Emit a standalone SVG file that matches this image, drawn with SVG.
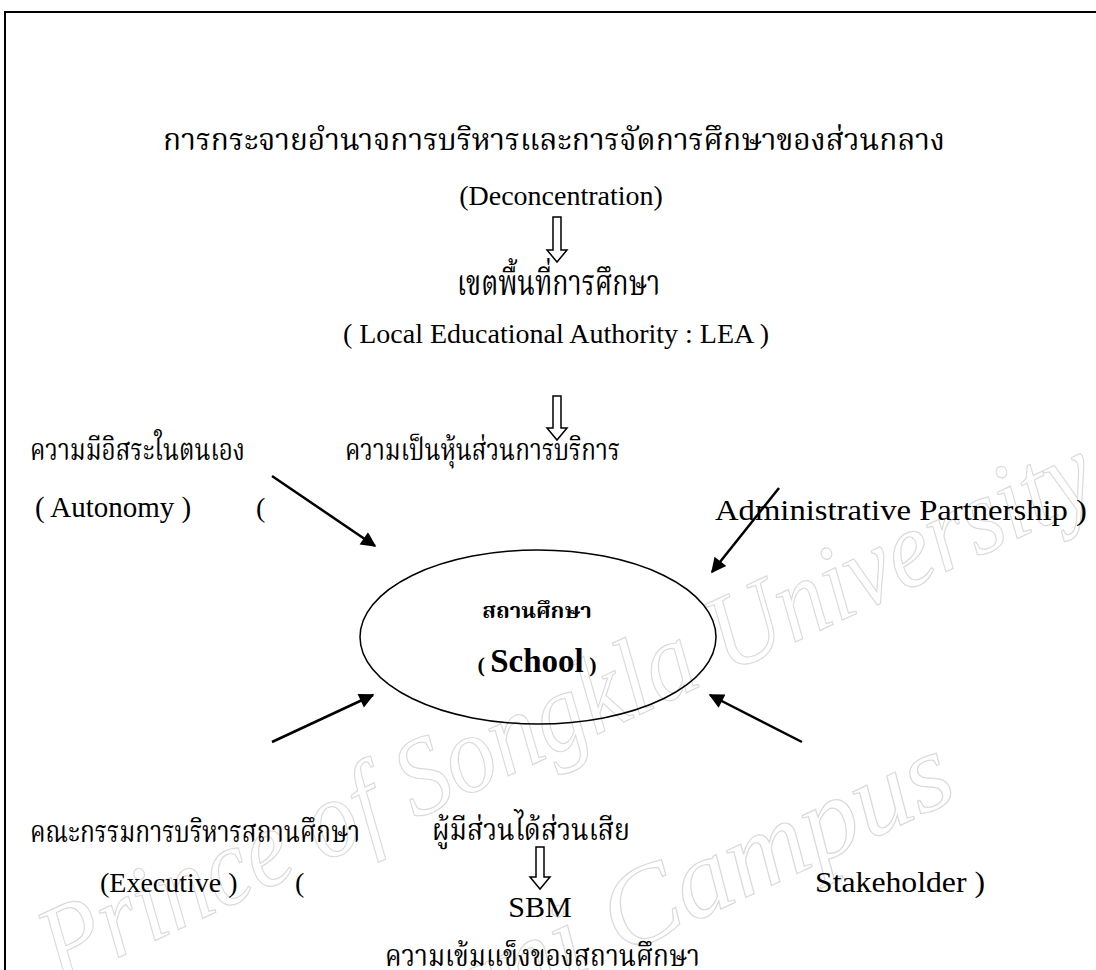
<svg xmlns="http://www.w3.org/2000/svg" width="1096" height="970" viewBox="0 0 1096 970">
<style>
.th{font-family:"Liberation Serif","Noto Serif Thai","Noto Sans Thai",serif;font-size:30px;fill:#000}
.en{font-family:"Liberation Serif",serif;font-size:28px;fill:#000}
.wm{font-family:"Liberation Serif",serif;font-style:italic;font-size:110px;fill:none;stroke:#dadada;stroke-width:1.2}
.ln{stroke:#000;stroke-width:2.5;fill:none}
.hol{fill:#fff;stroke:#000;stroke-width:1.5}
</style>
<defs>
<marker id="ah" viewBox="0 0 10 10" refX="9" refY="5" markerWidth="7" markerHeight="6" markerUnits="strokeWidth" orient="auto">
<path d="M0,0 L10,5 L0,10 z" fill="#000"/>
</marker>
</defs>
<rect x="0" y="0" width="1096" height="970" fill="#fff"/>
<g id="watermark">
<text class="wm" transform="translate(60,985) rotate(-25)" textLength="1150" lengthAdjust="spacingAndGlyphs">Prince of Songkla University</text>
<text class="wm" transform="translate(290,1110) rotate(-25)" textLength="740" lengthAdjust="spacingAndGlyphs">Pattani Campus</text>
</g>
<path d="M5,975 L5,12 L1100,12" stroke="#000" stroke-width="2" fill="none"/>
<g id="central">
<text class="th" x="163" y="150" textLength="782" lengthAdjust="spacingAndGlyphs">การกระจายอำนาจการบริหารและการจัดการศึกษาของส่วนกลาง</text>
<text class="en" x="561" y="205" text-anchor="middle">(Deconcentration)</text>
</g>
<g id="lea">
<text class="th" x="457" y="295" style="font-size:35px" textLength="203" lengthAdjust="spacingAndGlyphs">เขตพื้นที่การศึกษา</text>
<text class="en" x="556" y="343" text-anchor="middle">( Local Educational Authority : LEA )</text>
</g>
<g id="autonomy">
<text class="th" x="30" y="460" textLength="215" lengthAdjust="spacingAndGlyphs">ความมีอิสระในตนเอง</text>
<text class="en" x="35" y="517" style="font-size:29px">( Autonomy )</text>
<text class="en" x="256" y="517">(</text>
</g>
<g id="partnership">
<text class="th" x="345" y="460" textLength="275" lengthAdjust="spacingAndGlyphs">ความเป็นหุ้นส่วนการบริการ</text>
<text class="en" x="715" y="520" style="font-size:30px" textLength="372" lengthAdjust="spacingAndGlyphs">Administrative Partnership )</text>
</g>
<g id="school">
<ellipse cx="538" cy="637" rx="178" ry="87" fill="none" stroke="#000" stroke-width="1.5"/>
<text class="th" x="537" y="618" text-anchor="middle" style="font-size:22px;font-weight:bold">สถานศึกษา</text>
<text class="en" x="537" y="672" text-anchor="middle"><tspan style="font-size:22px;font-weight:bold">( </tspan><tspan style="font-size:33px;font-weight:bold">School</tspan><tspan style="font-size:22px;font-weight:bold"> )</tspan></text>
</g>
<g id="executive">
<text class="th" x="30" y="842" textLength="330" lengthAdjust="spacingAndGlyphs">คณะกรรมการบริหารสถานศึกษา</text>
<text class="en" x="100" y="892">(Executive )</text>
<text class="en" x="295" y="892">(</text>
</g>
<g id="stakeholder">
<text class="th" x="432" y="840" textLength="198" lengthAdjust="spacingAndGlyphs">ผู้มีส่วนได้ส่วนเสีย</text>
<text class="en" x="815" y="892" style="font-size:30px" textLength="170" lengthAdjust="spacingAndGlyphs">Stakeholder )</text>
</g>
<g id="sbm">
<text class="en" x="540" y="917" text-anchor="middle" style="font-size:30px">SBM</text>
<text class="th" x="385" y="966" textLength="315" lengthAdjust="spacingAndGlyphs">ความเข้มแข็งของสถานศึกษา</text>
</g>
<g id="connectors">
<path class="hol" d="M553,217 H561 V250 H567 L557,262 L547,250 H553 Z"/>
<path class="hol" d="M553,396 H561 V428 H567 L557,440 L547,428 H553 Z"/>
<path class="hol" d="M536,847 H544 V877 H550 L540,889 L530,877 H536 Z"/>
<line class="ln" x1="272" y1="476" x2="375" y2="546" marker-end="url(#ah)"/>
<line class="ln" x1="779" y1="488" x2="712" y2="572" marker-end="url(#ah)"/>
<line class="ln" x1="272" y1="742" x2="373" y2="695" marker-end="url(#ah)"/>
<line class="ln" x1="802" y1="742" x2="710" y2="695" marker-end="url(#ah)"/>
</g>
</svg>
